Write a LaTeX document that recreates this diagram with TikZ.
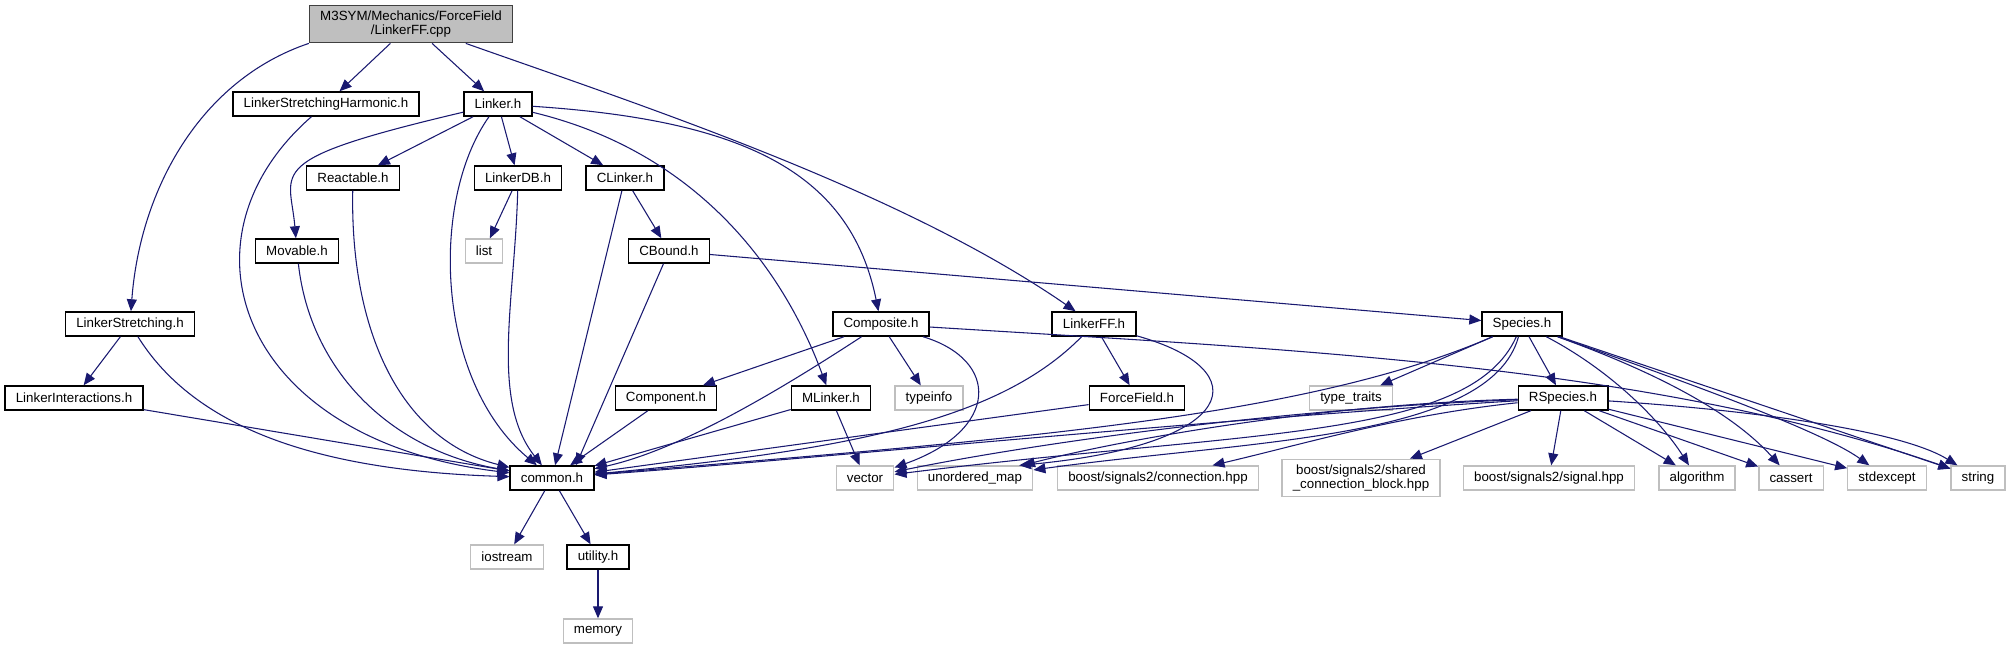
\documentclass[tikz,border=0pt]{standalone}
\usepackage{fontspec}
\setmainfont{Liberation Sans}
\usepackage{xcolor}
\usetikzlibrary{arrows.meta}
\definecolor{edgeblue}{HTML}{191970}
\definecolor{curgray}{HTML}{BFBFBF}

\begin{document}
\begin{tikzpicture}[x=0.75pt, y=-0.75pt,
  font=\fontsize{10pt}{10pt}\selectfont,
  nd/.style={rectangle, align=center, inner xsep=8pt, inner ysep=2pt,
             minimum height=18pt, fill=white},
  hdr/.style={nd, draw=black, line width=1.1pt},
  ext/.style={nd, draw=black!25, line width=1pt},
  cur/.style={nd, draw=black!75, line width=1.1pt, fill=curgray,
              minimum height=28pt},
  arr/.style={-{Triangle[length=9pt, width=7.5pt]}, line width=0.8pt, edgeblue}]

\path[use as bounding box] (0,0) rectangle (2010,649);

% rangs du graphe, de haut en bas
\node[cur] (root) at (411, 24) {M3SYM/Mechanics/ForceField\\/LinkerFF.cpp};

\node[hdr] (lsh)    at (326, 104) {LinkerStretchingHarmonic.h};
\node[hdr] (linker) at (498, 104) {Linker.h};

\node[hdr] (reactable) at (353, 178) {Reactable.h};
\node[hdr] (linkerdb)  at (518, 178) {LinkerDB.h};
\node[hdr] (clinker)   at (625, 178) {CLinker.h};

\node[hdr] (movable) at (297, 251) {Movable.h};
\node[ext] (list)    at (484, 251) {list};
\node[hdr] (cbound)  at (669, 251) {CBound.h};

\node[hdr] (lstretch)  at (130, 324)  {LinkerStretching.h};
\node[hdr] (composite) at (881, 324)  {Composite.h};
\node[hdr] (linkerff)  at (1094, 324) {LinkerFF.h};
\node[hdr] (species)   at (1522, 324) {Species.h};

\node[hdr] (linter)     at (74, 398)   {LinkerInteractions.h};
\node[hdr] (component)  at (666, 398)  {Component.h};
\node[hdr] (mlinker)    at (831, 398)  {MLinker.h};
\node[ext] (typeinfo)   at (929, 398)  {typeinfo};
\node[hdr] (forcefield) at (1137, 398) {ForceField.h};
\node[ext] (typetraits) at (1351, 398) {type\_traits};
\node[hdr] (rspecies)   at (1563, 398) {RSpecies.h};

\node[hdr] (common)    at (552, 478)  {common.h};
\node[ext] (vector)    at (865, 478)  {vector};
\node[ext] (umap)      at (975, 478)  {unordered\_map};
\node[ext] (conn)      at (1158, 478) {boost/signals2/connection.hpp};
\node[ext, minimum height=28pt] (shared) at (1361, 478)
  {boost/signals2/shared\\\_connection\_block.hpp};
\node[ext] (signal)    at (1549, 478) {boost/signals2/signal.hpp};
\node[ext] (algorithm) at (1697, 478) {algorithm};
\node[ext] (cassert)   at (1791, 478) {cassert};
\node[ext] (stdexcept) at (1887, 478) {stdexcept};
\node[ext] (string)    at (1978, 478) {string};

\node[ext] (iostream) at (507, 557) {iostream};
\node[hdr] (utility)  at (598, 557) {utility.h};
\node[ext] (memory)   at (598, 631) {memory};

% LinkerFF.cpp
\draw[arr] (root.south west) .. controls (200,80) and (140,190) .. (lstretch);
\draw[arr] (root) -- (lsh);
\draw[arr] (root) -- (linker);
\draw[arr] (root) .. controls (640,105) and (900,190) .. (linkerff);

% Linker.h et ses voisins
\draw[arr] (lsh) .. controls (170,240) and (240,440) .. (common);
\draw[arr] (linker) -- (reactable);
\draw[arr] (linker) -- (linkerdb);
\draw[arr] (linker) -- (clinker);
\draw[arr] (linker) .. controls (260,160) and (290,170) .. (movable);
\draw[arr] (linker) .. controls (430,200) and (435,380) .. (common);
\draw[arr] (linker) .. controls (740,120) and (850,170) .. (composite);
\draw[arr] (linker) .. controls (690,150) and (780,260) .. (mlinker);
\draw[arr] (reactable) .. controls (350,330) and (400,440) .. (common);
\draw[arr] (linkerdb) -- (list);
\draw[arr] (linkerdb) .. controls (515,300) and (490,400) .. (common);
\draw[arr] (clinker) -- (cbound);
\draw[arr] (clinker) -- (common);
\draw[arr] (movable) .. controls (310,370) and (390,450) .. (common);
\draw[arr] (cbound) -- (common.28);
\draw[arr] (cbound) -- (species);

% LinkerStretching.h
\draw[arr] (lstretch) -- (linter);
\draw[arr] (lstretch) .. controls (190,420) and (300,470) .. (common);
\draw[arr] (linter) -- (common);

% Composite.h, MLinker.h
\draw[arr] (composite) -- (component);
\draw[arr] (composite) .. controls (780,390) and (680,450) .. (common);
\draw[arr] (composite) -- (typeinfo);
\draw[arr] (composite) .. controls (1000,360) and (1000,430) .. (vector);
\draw[arr] (composite) .. controls (1300,350) and (1650,365) .. (string);
\draw[arr] (component) -- (common);
\draw[arr] (mlinker) -- (common);
\draw[arr] (mlinker) -- (vector);

% LinkerFF.h, ForceField.h
\draw[arr] (linkerff) .. controls (1000,420) and (850,450) .. (common);
\draw[arr] (linkerff) -- (forcefield);
\draw[arr] (linkerff) .. controls (1260,370) and (1240,445) .. (umap.16);
\draw[arr] (forcefield) -- (common);

% Species.h
\draw[arr] (species) .. controls (1300,420) and (1000,440) .. (common);
\draw[arr] (species) -- (typetraits);
\draw[arr] (species) .. controls (1470,440) and (1250,430) .. (vector);
\draw[arr] (species) .. controls (1490,440) and (1250,440) .. (umap);
\draw[arr] (species) -- (rspecies);
\draw[arr] (species) .. controls (1610,370) and (1660,420) .. (algorithm);
\draw[arr] (species) .. controls (1650,370) and (1730,410) .. (cassert);
\draw[arr] (species) .. controls (1680,380) and (1820,430) .. (stdexcept);
\draw[arr] (species) -- (string);

% RSpecies.h
\draw[arr] (rspecies) .. controls (1200,420) and (800,460) .. (common);
\draw[arr] (rspecies) .. controls (1250,410) and (1000,450) .. (vector);
\draw[arr] (rspecies) .. controls (1300,405) and (1100,445) .. (umap);
\draw[arr] (rspecies) .. controls (1400,415) and (1300,445) .. (conn);
\draw[arr] (rspecies) -- (shared);
\draw[arr] (rspecies) -- (signal);
\draw[arr] (rspecies) -- (algorithm);
\draw[arr] (rspecies) -- (cassert);
\draw[arr] (rspecies) -- (stdexcept);
\draw[arr] (rspecies) .. controls (1750,410) and (1900,430) .. (string);

% common.h
\draw[arr] (common) -- (iostream);
\draw[arr] (common) -- (utility);
\draw[arr] (utility) -- (memory);
\end{tikzpicture}
\end{document}
